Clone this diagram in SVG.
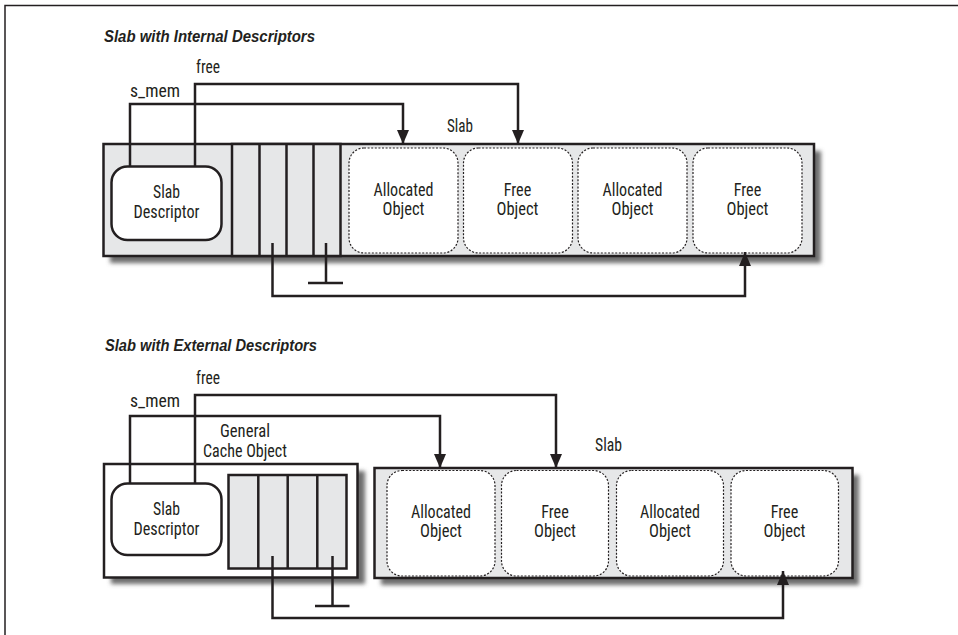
<svg xmlns="http://www.w3.org/2000/svg" width="958" height="635" viewBox="0 0 958 635">
<defs>
<filter id="blur" x="-10%" y="-20%" width="120%" height="140%"><feGaussianBlur stdDeviation="2.2"/></filter>
<marker id="arr" viewBox="0 0 14 12" refX="14" refY="6" markerWidth="14" markerHeight="12" orient="auto" markerUnits="userSpaceOnUse"><path d="M0,0 L14,6 L0,12 z" fill="#231f20"/></marker>
</defs>
<style>
.t{font-family:"Liberation Sans Narrow","Roboto Condensed","Liberation Sans",Arial,sans-serif;font-size:17.5px;fill:#231f20}
.m{text-anchor:middle}
.h{font-family:"Liberation Sans Narrow","Liberation Sans",Arial,sans-serif;font-size:16px;font-weight:bold;font-style:italic;fill:#231f20}
.sh{fill:#6e6e6e;filter:url(#blur)}
.slab{fill:#e6e7e8;stroke:#231f20;stroke-width:2.5}
.box{fill:#ffffff;stroke:#231f20;stroke-width:2.5}
.obj{fill:#ffffff;stroke:#231f20;stroke-width:1.2;stroke-dasharray:2 1.6}
.ln{fill:none;stroke:#231f20;stroke-width:2.5}
.cn{fill:none;stroke:#231f20;stroke-width:2.5}
</style>
<path d="M5,635 V5.5 H958" fill="none" stroke="#231f20" stroke-width="1.5"/>

<text class="h" x="104" y="42" textLength="211" lengthAdjust="spacingAndGlyphs">Slab with Internal Descriptors</text>
<text class="h" x="105" y="351" textLength="212" lengthAdjust="spacingAndGlyphs">Slab with External Descriptors</text>

<!-- Top diagram -->
<g id="slab-internal">
<rect class="sh" x="110" y="151" width="711" height="112"/>
<rect class="slab" x="103.5" y="144" width="710.5" height="112"/>
<text class="t" x="447" y="132" textLength="26" lengthAdjust="spacingAndGlyphs">Slab</text>
</g>
<g id="index-internal">
<rect class="slab" x="232" y="144" width="108.5" height="112"/>
<path class="ln" d="M259.5,144 V256 M286.5,144 V256 M313.5,144 V256"/>
</g>
<g id="desc-internal">
<rect class="box" x="111.5" y="166.5" width="110" height="73.5" rx="16"/>
<text class="t m" x="166.5" y="198" textLength="27" lengthAdjust="spacingAndGlyphs">Slab</text>
<text class="t m" x="166.5" y="218" textLength="66" lengthAdjust="spacingAndGlyphs">Descriptor</text>
</g>
<g id="obj-i1">
<rect class="obj" x="349" y="148" width="109" height="105" rx="15"/>
<text class="t m" x="403.5" y="196" textLength="60" lengthAdjust="spacingAndGlyphs">Allocated</text>
<text class="t m" x="403.5" y="215" textLength="42" lengthAdjust="spacingAndGlyphs">Object</text>
</g>
<g id="obj-i2">
<rect class="obj" x="463.5" y="148" width="109" height="105" rx="15"/>
<text class="t m" x="517.5" y="196" textLength="27.5" lengthAdjust="spacingAndGlyphs">Free</text>
<text class="t m" x="517.5" y="215" textLength="42" lengthAdjust="spacingAndGlyphs">Object</text>
</g>
<g id="obj-i3">
<rect class="obj" x="578" y="148" width="109" height="105" rx="15"/>
<text class="t m" x="632.5" y="196" textLength="60" lengthAdjust="spacingAndGlyphs">Allocated</text>
<text class="t m" x="632.5" y="215" textLength="42" lengthAdjust="spacingAndGlyphs">Object</text>
</g>
<g id="obj-i4">
<rect class="obj" x="693" y="148" width="109" height="105" rx="15"/>
<text class="t m" x="747.5" y="196" textLength="27.5" lengthAdjust="spacingAndGlyphs">Free</text>
<text class="t m" x="747.5" y="215" textLength="42" lengthAdjust="spacingAndGlyphs">Object</text>
</g>

<!-- Bottom diagram -->
<g id="general-cache">
<rect class="sh" x="111" y="471" width="254" height="113"/>
<rect class="box" x="104" y="464" width="253.5" height="113.5"/>
<text class="t m" x="245" y="437" textLength="50" lengthAdjust="spacingAndGlyphs">General</text>
<text class="t m" x="245" y="457" textLength="84" lengthAdjust="spacingAndGlyphs">Cache Object</text>
</g>
<g id="index-external">
<rect class="slab" x="228.5" y="475" width="118" height="93.5"/>
<path class="ln" d="M258.3,475 V568.5 M287.7,475 V568.5 M317.3,475 V568.5"/>
</g>
<g id="desc-external">
<rect class="box" x="111.5" y="483.5" width="110" height="71.5" rx="16"/>
<text class="t m" x="166.5" y="515" textLength="27" lengthAdjust="spacingAndGlyphs">Slab</text>
<text class="t m" x="166.5" y="535" textLength="66" lengthAdjust="spacingAndGlyphs">Descriptor</text>
</g>
<g id="slab-external">
<rect class="sh" x="381" y="475" width="478" height="110"/>
<rect class="slab" x="374.5" y="468" width="478" height="110"/>
<text class="t" x="595" y="451" textLength="27" lengthAdjust="spacingAndGlyphs">Slab</text>
</g>
<g id="obj-e1">
<rect class="obj" x="387" y="470.5" width="108" height="105.5" rx="15"/>
<text class="t m" x="441" y="518" textLength="60" lengthAdjust="spacingAndGlyphs">Allocated</text>
<text class="t m" x="441" y="537" textLength="42" lengthAdjust="spacingAndGlyphs">Object</text>
</g>
<g id="obj-e2">
<rect class="obj" x="501.5" y="470.5" width="107" height="105.5" rx="15"/>
<text class="t m" x="555" y="518" textLength="27.5" lengthAdjust="spacingAndGlyphs">Free</text>
<text class="t m" x="555" y="537" textLength="42" lengthAdjust="spacingAndGlyphs">Object</text>
</g>
<g id="obj-e3">
<rect class="obj" x="616.5" y="470.5" width="107" height="105.5" rx="15"/>
<text class="t m" x="670" y="518" textLength="60" lengthAdjust="spacingAndGlyphs">Allocated</text>
<text class="t m" x="670" y="537" textLength="42" lengthAdjust="spacingAndGlyphs">Object</text>
</g>
<g id="obj-e4">
<rect class="obj" x="731" y="470.5" width="107.5" height="105.5" rx="15"/>
<text class="t m" x="784.5" y="518" textLength="27.5" lengthAdjust="spacingAndGlyphs">Free</text>
<text class="t m" x="784.5" y="537" textLength="42" lengthAdjust="spacingAndGlyphs">Object</text>
</g>

<!-- Connectors -->
<g id="connectors">
<path class="cn" d="M130,166.5 V104 H403 V144" marker-end="url(#arr)"/>
<path class="cn" d="M195,166.5 V84 H518 V144" marker-end="url(#arr)"/>
<path class="cn" d="M272.5,243 V296 H745 V252" marker-end="url(#arr)"/>
<path class="cn" d="M326,243 V283 M308,283 H343"/>
<text class="t" x="196" y="73" textLength="24" lengthAdjust="spacingAndGlyphs">free</text>
<text class="t" x="130" y="97" textLength="50" lengthAdjust="spacingAndGlyphs">s_mem</text>

<path class="cn" d="M130,483.5 V416 H440 V468" marker-end="url(#arr)"/>
<path class="cn" d="M195,483.5 V395 H556 V468" marker-end="url(#arr)"/>
<path class="cn" d="M272.5,556 V618 H783 V571" marker-end="url(#arr)"/>
<path class="cn" d="M332.5,556 V606 M315,606 H349.5"/>
<text class="t" x="196" y="384" textLength="24" lengthAdjust="spacingAndGlyphs">free</text>
<text class="t" x="130" y="407" textLength="50" lengthAdjust="spacingAndGlyphs">s_mem</text>
</g>
</svg>
